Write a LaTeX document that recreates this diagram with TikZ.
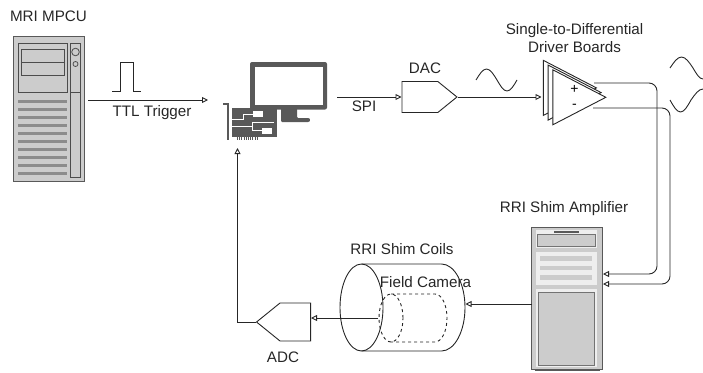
\documentclass[tikz,border=0pt]{standalone}
\usepackage{fontspec}
\setmainfont{Liberation Sans}
\usetikzlibrary{arrows.meta,positioning,shapes.geometric,shapes.symbols}
\definecolor{cinza}{HTML}{CCCCCC}
\definecolor{escuro}{HTML}{595959}
\definecolor{claro}{HTML}{EEEEEE}

\begin{document}
\begin{tikzpicture}[
    x=1pt, y=-1pt,
    rotulo/.style={inner sep=0pt, align=center, font=\fontsize{15.2}{18}\selectfont, text=black!85},
    seta/.style={-{Triangle[open,length=6pt,width=6pt]}, line width=0.9pt, draw=black!85},
    linha/.style={line width=0.9pt, draw=black!85},
    conversor/.style={draw=black!85, line width=0.9pt, signal, inner sep=0pt, minimum height=31pt},
    gabinete/.style={draw=escuro, line width=1pt, fill=cinza, inner sep=0pt},
    painel/.style={draw=black!70, line width=0.8pt, fill=cinza},
    tracado/.style={draw=white, line width=1pt},
    amp/.style={draw=black!85, line width=0.9pt, fill=white, isosceles triangle, isosceles triangle stretches, inner sep=0pt, minimum width=55pt, minimum height=53pt}
  ]
    \useasboundingbox (0,0) rectangle (703,372);

    % MRI console
    \node[rotulo] (mpculabel) at (48.5,16) {MRI MPCU};
    \node[gabinete, minimum width=71pt, minimum height=145pt] (mpcu) at (48.5,108.5) {};
    \draw[painel] (18,43) rectangle (67,92);
    \draw[painel] (21.5,49) rectangle (64,75.5);
    \draw[painel] (21.5,62) -- (64,62);
    \draw[painel] (70,43) rectangle (80,177);
    \draw[painel] (70,92) -- (80,92);
    \draw[painel] (75.5,52) circle (3.8);
    \draw[painel] (75.5,64) circle (2.5);
    \foreach \y in {101,109.1,...,174} {
      \fill[black!45] (18,\y-1.5) rectangle (67,\y+1.5);
    }

    % trigger
    \draw[linha] (112,91) -- (120,91) -- (120,62) -- (133,62) -- (133,91) -- (141,91);
    \coordinate (trigstart) at (88,100);
    \coordinate (trigend) at (208,100);
    \draw[seta] (trigstart) -- (trigend);
    \node[rotulo] (triglabel) at (152,112.5) {TTL Trigger};

    % computer and card
    \node[minimum width=100pt, minimum height=78pt, inner sep=0pt] (pc) at (277,101) {};
    \fill[escuro, rounded corners=2pt] (250,62) rectangle (327,109.5);
    \fill[white] (255,67) rectangle (323,105);
    \fill[escuro, rounded corners=1pt] (281,108) -- (297,108) -- (297,118) -- (309,118) -- (310.5,120) -- (309,122) -- (281,122) -- cycle;
    \fill[escuro] (232,108) rectangle (277,137);
    \fill[white] (277,109.5) rectangle (280.5,122);
    \draw[escuro, line width=2pt] (223,104) -- (228,104) -- (228,140);
    \draw[escuro, line width=2.5pt, dash pattern=on 1pt off 1.2pt] (237,138.5) -- (258,138.5);
    \draw[tracado] (232,119) -- (243,119) -- (243,114) -- (254,114);
    \draw[tracado] (232,126) -- (252,126);
    \draw[tracado] (252,130) -- (252,122) -- (274,122);
    \draw[tracado] (252,130) -- (263,130);
    \fill[white] (253,111) rectangle (263,116.5);
    \fill[white] (261.5,128) rectangle (272,133.5);

    % DAC
    \coordinate (spistart) at (337,97);
    \node[conversor, signal to=east, signal pointer angle=78, minimum width=55pt, anchor=west] (dac) at (401.5,97) {};
    \node[rotulo] (daclabel) at (425,68.5) {DAC};
    \draw[seta] (spistart) -- (dac.west);
    \node[rotulo] (spilabel) at (364,106.5) {SPI};
    \draw[linha] (476,80) sin (486.5,69) cos (497,80) sin (507,91) cos (517,80);

    % driver boards
    \node[amp, anchor=apex] (driverc) at (597.6,87.9) {};
    \node[amp, anchor=apex] (driverb) at (602.3,92.6) {};
    \node[amp, anchor=apex] (driver) at (607,97.3) {};
    \node[rotulo] (driverlabel) at (574.5,38) {Single-to-Differential\\Driver Boards};
    \node[inner sep=0pt, font=\fontsize{14}{14}\selectfont] (plus) at (574.5,89) {+};
    \node[inner sep=0pt, font=\fontsize{14}{14}\selectfont] (minus) at (574.5,106) {-};
    \coordinate (driverin) at (541.5,97);
    \draw[seta] (dac.east) -- (driverin);
    \draw[linha] (670,68) sin (681.5,57) cos (693,68) sin (703,79);
    \draw[linha] (670,100) sin (680.5,112) cos (691,100) sin (703,89);

    % shim amplifier
    \node[rotulo] (amplabel) at (564,209) {RRI Shim Amplifier};
    \node[gabinete, minimum width=70.5pt, minimum height=141.5pt] (rack) at (567,298.5) {};
    \draw[escuro, line width=0.8pt] (534.5,370.5) -- (600,370.5);
    \fill[claro] (536,230) rectangle (597,248);
    \fill[escuro] (554,230.5) rectangle (578.5,232.5);
    \draw[black!55, line width=0.8pt, fill=cinza] (537.5,234.5) rectangle (595,246);
    \fill[claro] (536,252) rectangle (597,284.5);
    \foreach \y in {258.5,268,277.5} {
      \fill[cinza] (540,\y-2.3) rectangle (592,\y+2.3);
    }
    \fill[claro] (536,289) rectangle (597,367);
    \draw[black!55, line width=0.8pt, fill=cinza] (538.5,292) rectangle (594.5,365);
    \coordinate (ampin) at (603,274);
    \coordinate (ampinb) at (603,284);
    \coordinate (outp) at (594,83);
    \coordinate (outn) at (593,108);
    \draw[seta, rounded corners=8pt] (outp) -- (657,83) -- (657,274) -- (ampin);
    \draw[seta, rounded corners=8pt] (outn) -- (670,108) -- (670,284) -- (ampinb);

    % coils
    \node[rotulo] (coillabel) at (402,249) {RRI Shim Coils};
    \draw[linha] (361.5,307.5) circle[x radius=21.5pt, y radius=43.5pt];
    \draw[linha] (361.5,264) -- (441.5,264) arc[start angle=90, end angle=-90, x radius=23.5pt, y radius=43.5pt] -- (361.5,351);
    \draw[linha, dashed] (391,318) circle[x radius=12pt, y radius=24pt];
    \draw[linha, dashed] (391,294) -- (435,294) arc[start angle=90, end angle=-90, x radius=12pt, y radius=24pt] -- (391,342);
    \node[rotulo] (cameralabel) at (425.5,282) {Field Camera};
    \coordinate (coilin) at (465.5,304);
    \coordinate (ampout) at (532,304);
    \draw[seta] (ampout) -- (coilin);

    % ADC
    \node[conversor, signal to=west, signal pointer angle=78, minimum width=54pt, minimum height=38pt, anchor=east] (adc) at (311,322) {};
    \node[rotulo] (adclabel) at (283,357) {ADC};
    \coordinate (camout) at (378,318);
    \draw[seta] (camout) -- (adc.east |- camout);
    \coordinate (pcin) at (237.5,148);
    \draw[seta] (adc.west) -- (pcin |- adc.west) -- (pcin);
  \end{tikzpicture}
\end{document}
